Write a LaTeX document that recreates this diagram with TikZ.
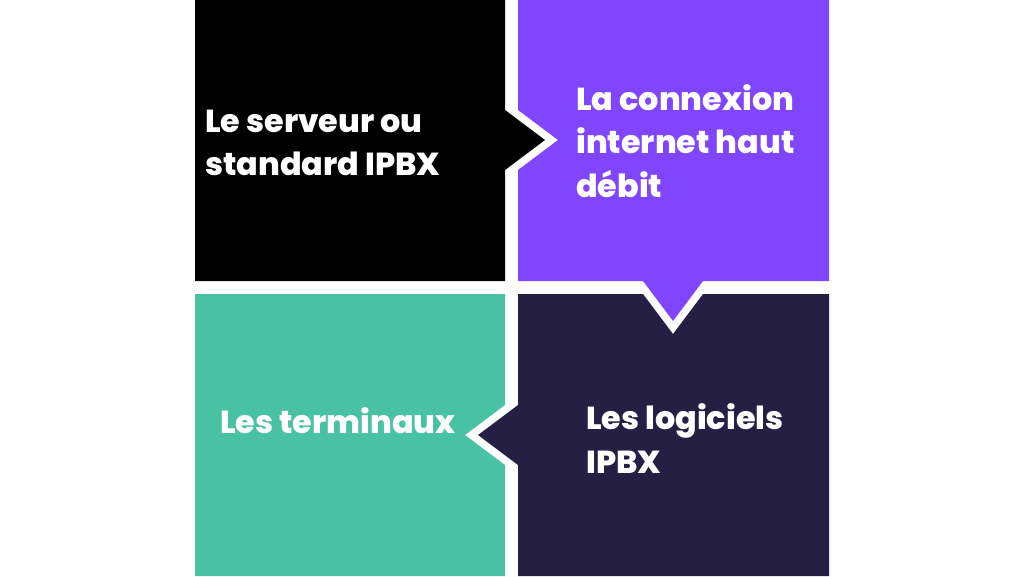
\documentclass[tikz,border=0pt]{standalone}
\usepackage{fontspec}
\setmainfont{Poppins}[BoldFont={Poppins ExtraBold}]
\definecolor{cblack}{HTML}{000000}
\definecolor{cpurple}{HTML}{7F45FF}
\definecolor{cteal}{HTML}{49C2A4}
\definecolor{cnavy}{HTML}{251F44}
\tikzset{
  txt/.style={text=white, inner sep=0pt, align=left, anchor=base west,
    font=\fontsize{31.8}{43.5}\selectfont\bfseries},
}
\begin{document}
\begin{tikzpicture}[x=1pt,y=-1pt]
\useasboundingbox (0,0) rectangle (1024,576);
\fill[white] (0,0) rectangle (1024,576);
% black box with arrow to the right
\fill[cblack] (195,0) -- (505,0) -- (505,110) -- (545,140) -- (505,170) -- (505,281) -- (195,281) -- cycle;
% purple box with notch on left and arrow down
\fill[cpurple] (518,0) -- (829,0) -- (829,281) -- (703,281) -- (673,321) -- (643,281) -- (518,281) -- (518,170) -- (558,140) -- (518,110) -- cycle;
% teal box with notch on right
\fill[cteal] (195,294) -- (505,294) -- (505,405) -- (465,435) -- (505,465) -- (505,576) -- (195,576) -- cycle;
% navy box with notch on top and arrow left
\fill[cnavy] (518,294) -- (643,294) -- (673,334) -- (703,294) -- (829,294) -- (829,576) -- (518,576) -- (518,465) -- (478,435) -- (518,405) -- cycle;
% anchors are the baseline of the last line
\node[txt] (t1) at (205,175.5) {Le serveur ou\\standard IPBX};
\node[txt] (t2) at (576,197) {La connexion\\internet haut\\débit};
\node[txt] (t3) at (220,433) {Les terminaux};
\node[txt] (t4) at (586,473) {Les logiciels\\IPBX};
\end{tikzpicture}
\end{document}
